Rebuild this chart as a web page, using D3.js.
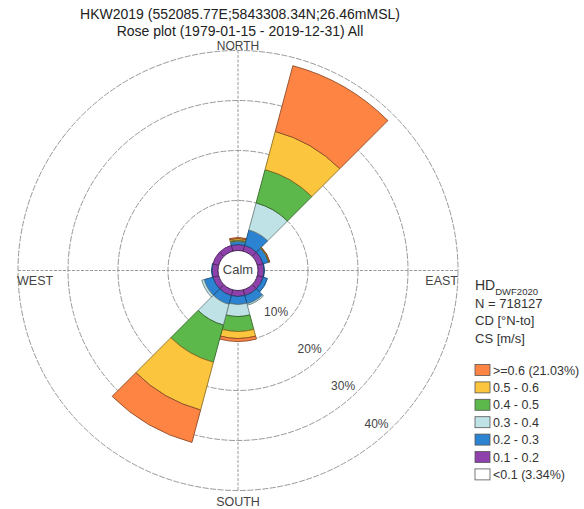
<!DOCTYPE html>
<html><head><meta charset="utf-8">
<script src="https://cdn.jsdelivr.net/npm/d3@7"></script>
<style>body{margin:0;background:#fff}svg text{font-family:"Liberation Sans",Arial,Helvetica,sans-serif}</style>
</head><body><svg id="c" width="584" height="509"></svg>
<script>
const titleLines = ["HKW2019 (552085.77E;5843308.34N;26.46mMSL)", "Rose plot  (1979-01-15 - 2019-12-31) All"];
const directions = [0, 30, 60, 90, 120, 150, 180, 210, 240, 270, 300, 330];
const compassLabels = ["NORTH", "EAST", "SOUTH", "WEST"];
const ringTicks = [10, 20, 30, 40];
const legendHeader = ["N = 718127", "CD [\u00B0N-to]", "CS [m/s]"];
const classLabels = [">=0.6 (21.03%)", "0.5 - 0.6", "0.4 - 0.5", "0.3 - 0.4", "0.2 - 0.3", "0.1 - 0.2", "<0.1 (3.34%)"];
const classColors = ["#fd8443", "#fbc53d", "#5db84b", "#bee2e5", "#2c83d1", "#8e41ab", "#ffffff"];
// percent of time per direction sector, per current speed class
const pct_01_02 = [1.2, 1.2, 1.2, 1.2, 1.2, 1.2, 1.2, 1.2, 1.2, 1.2, 1.2, 1.2];
const pct_02_03 = [0.6, 3.2, 1.1, 0.1, 0.9, 1.7, 1.6, 1.8, 1.8, 0.1, 0, 0];
const pct_03_04 = [0.15, 5.6, 0.1, 0, 0, 0.3, 2.4, 4.3, 0.5, 0, 0, 0];
const pct_04_05 = [0.15, 6.9, 0.1, 0, 0, 0, 3.0, 7.7, 0, 0, 0, 0];
const pct_05_06 = [0.3, 7.9, 0.05, 0, 0, 0, 1.4, 9.9, 0, 0, 0, 0];
const pct_06_up = [0.2, 13.6, 0.05, 0, 0, 0, 0.6, 6.7, 0, 0, 0, 0];

const stackSeries = [pct_01_02, pct_02_03, pct_03_04, pct_04_05, pct_05_06, pct_06_up];
const stackColors = [classColors[5], classColors[4], classColors[3], classColors[2], classColors[1], classColors[0]];

const svg = d3.select("#c");
const cx = 238, cy = 270.5;
const r = d3.scaleLinear().domain([0, 40]).range([20, 220]);
const rad = d => d * Math.PI / 180;
const g = svg.append("g").attr("transform", `translate(${cx},${cy})`);

// title
svg.selectAll("text.title").data(titleLines).join("text")
  .attr("class", "title").attr("x", 240).attr("y", (d, i) => 19 + i * 17)
  .attr("text-anchor", "middle").attr("font-size", 14).attr("fill", "#222").text(d => d);

// grid
const gridCol = "#9a9a9a";
g.selectAll("circle.ring").data(ringTicks).join("circle")
  .attr("r", d => r(d)).attr("fill", "none").attr("stroke", gridCol)
  .attr("stroke-width", 1).attr("stroke-dasharray", "6,1.5");
const R = r(40);
g.append("line").attr("x1", -R).attr("x2", R).attr("y1", 0).attr("y2", 0)
  .attr("stroke", gridCol).attr("stroke-dasharray", "3,1.5");
g.append("line").attr("y1", -R).attr("y2", R).attr("x1", 0).attr("x2", 0)
  .attr("stroke", gridCol).attr("stroke-dasharray", "3,1.5");

// compass labels
const lbl = {
  NORTH: {x: 0, y: -R - 0.5, a: "middle"},
  SOUTH: {x: 0, y: R + 15.5, a: "middle"},
  WEST: {x: -R - 1, y: 14.5, a: "start"},
  EAST: {x: R, y: 14.5, a: "end"}
};
g.selectAll("text.comp").data(compassLabels).join("text").attr("class", "comp")
  .attr("x", d => lbl[d].x).attr("y", d => lbl[d].y).attr("text-anchor", d => lbl[d].a)
  .attr("font-size", d => d === "NORTH" ? 12 : 12.5).attr("fill", "#444").text(d => d);

// ring labels
const la = rad(138);
g.selectAll("text.rl").data(ringTicks).join("text").attr("class", "rl")
  .attr("x", d => (r(d) - 13) * Math.sin(la)).attr("y", d => -(r(d) - 13) * Math.cos(la))
  .attr("text-anchor", "middle").attr("dominant-baseline", "middle")
  .attr("font-size", 12).attr("fill", "#444").text(d => d + "%");

// bars
const arc = d3.arc();
const half = 15;
const segs = [];
directions.forEach((dir, i) => {
  let cum = 0;
  stackSeries.forEach((s, k) => {
    const v = s[i];
    if (v > 0) {
      segs.push({dir, k, r0: cum, r1: cum + v});
    }
    cum += v;
  });
});
g.selectAll("path.seg").data(segs).join("path").attr("class", "seg")
  .attr("d", d => arc({innerRadius: r(d.r0), outerRadius: r(d.r1),
    startAngle: rad(d.dir - half), endAngle: rad(d.dir + half)}))
  .attr("fill", d => stackColors[d.k])
  .attr("stroke", d => d3.color(stackColors[d.k]).darker(1.6))
  .attr("stroke-width", 0.9).attr("stroke-linejoin", "round");

// calm circle
g.append("circle").attr("r", r(0)).attr("fill", "#fff").attr("stroke", "#4a2a5a").attr("stroke-width", 1);
g.append("text").attr("x", 0).attr("y", 0).attr("text-anchor", "middle").attr("dominant-baseline", "middle")
  .attr("font-size", 13).attr("fill", "#444").text("Calm");

// legend
const lx = 475;
const hd = svg.append("text").attr("x", lx).attr("y", 290).attr("font-size", 14).attr("fill", "#333");
hd.append("tspan").text("HD");
hd.append("tspan").attr("dy", 5).attr("font-size", 9.5).text("DWF2020");
svg.selectAll("text.lh").data(legendHeader).join("text").attr("class", "lh")
  .attr("x", lx).attr("y", (d, i) => 308 + i * 17.3).attr("font-size", 13).attr("fill", "#333").text(d => d);
const items = svg.selectAll("g.li").data(classLabels).join("g").attr("class", "li")
  .attr("transform", (d, i) => `translate(${lx},${370 + i * 17.4})`);
items.append("rect").attr("x", 0).attr("y", -5.5).attr("width", 15).attr("height", 11)
  .attr("fill", (d, i) => classColors[i]).attr("stroke", "#555").attr("stroke-width", 0.8);
items.append("text").attr("x", 18).attr("y", 4.5).attr("font-size", 12.5).attr("fill", "#333").text(d => d);
</script></body></html>
